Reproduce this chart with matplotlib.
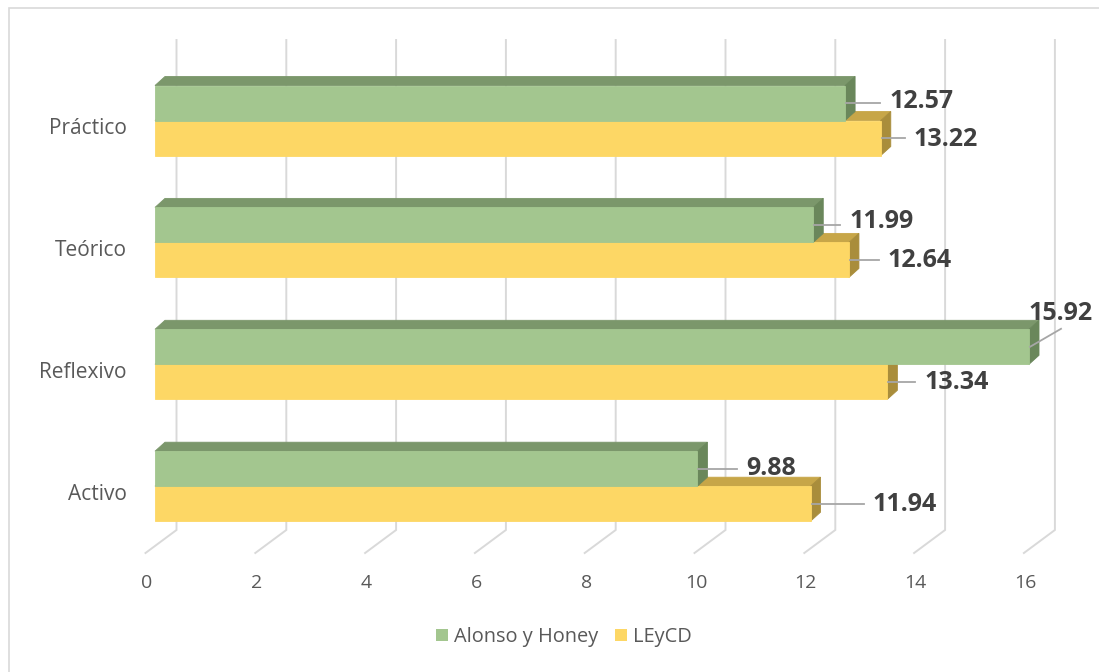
import matplotlib
matplotlib.use("Agg")
import matplotlib.pyplot as plt
from matplotlib.patches import Polygon, Rectangle, Patch

# ---------------- data ----------------
categories = ["Práctico", "Teórico", "Reflexivo", "Activo"]
series_names = ["Alonso y Honey", "LEyCD"]
alonso = [12.57, 11.99, 15.92, 9.88]
leycd = [13.22, 12.64, 13.34, 11.94]
x_ticks = [0, 2, 4, 6, 8, 10, 12, 14, 16]

# ---------------- styles ----------------
GREEN = dict(front="#A3C68F", top="#7B976B", side="#6A875B")
YELLOW = dict(front="#FDD765", top="#C7A648", side="#A98D3B")
GRID = "#D9D9D9"
TXT = "#595959"
LBL = "#404040"
LEADER = "#A6A6A6"

# ---------------- layout (pixels) ----------------
W, H = 1099, 672
X0, SX = 155.0, 54.9      # pixel of value 0 on the bar front plane, px per unit
Y0, SY = 120.5, 121.9     # pixel of the first category boundary, px per category

def ux(p):
    return p / SX

def uy(p):
    return p / SY

def py(p):  # absolute pixel row -> y data
    return (p - Y0) / SY

fig = plt.figure(figsize=(W / 100, H / 100), dpi=100)
ax = fig.add_axes([0, 0, 1, 1])
ax.set_xlim(-X0 / SX, (W - X0) / SX)
ax.set_ylim((H - Y0) / SY, -Y0 / SY)
ax.axis("off")

# outer chart border
fig.patches.append(Rectangle((9 / W, -0.01), 1.02, 1 - 8 / H + 0.01,
                             transform=fig.transFigure, fill=False,
                             edgecolor="#D9D9D9", lw=1.2, zorder=0))

# gridlines: back wall vertical + floor diagonal
for v in x_ticks:
    xb = v + ux(21.5)
    xf = v + ux(-9.5)
    ax.plot([xb, xb, xf], [py(40), py(530), py(553)], color=GRID, lw=1.4,
            solid_joinstyle="miter", zorder=1)
    ax.text(v + ux(-8), py(583), str(v), ha="center", va="center",
            fontsize=14, color=TXT, family="Open Sans")

# category labels
for i, cat in enumerate(categories):
    ax.text(ux(127 - X0), i + uy(8), cat, ha="right", va="center",
            fontsize=15, color=TXT, family="Open Sans")

# bars
h = uy(35)
dx, dy = ux(10), uy(9)

def bar3d(v, y_top, y_bot, col, z):
    kw = dict(lw=0.6, zorder=z)
    ax.add_patch(Polygon([(0, y_top), (v, y_top), (v + dx, y_top - dy), (dx, y_top - dy)],
                         closed=True, facecolor=col["top"], edgecolor=col["top"], **kw))
    ax.add_patch(Polygon([(v, y_top), (v + dx, y_top - dy), (v + dx, y_bot - dy), (v, y_bot)],
                         closed=True, facecolor=col["side"], edgecolor=col["side"], **kw))
    ax.add_patch(Polygon([(0, y_top), (v, y_top), (v, y_bot), (0, y_bot)],
                         closed=True, facecolor=col["front"], edgecolor=col["front"], **kw))

for i in range(len(categories)):
    bar3d(leycd[i], i, i + h, YELLOW, 3 + 2 * i)
    bar3d(alonso[i], i - h, i, GREEN, 4 + 2 * i)

# data labels: offsets in pixels (dx from bar end to label left edge, dy from face centre)
green_off = [(44, -1), (36, -3), None, (49, 0)]
yellow_off = [(33, 1), (39, 1), (37, 1), (62, 1)]
LBL_SIZE = 18

def label(v, yc, off, z):
    ox, oy = off
    ax.plot([v + ux(1), v + ux(ox - 9)], [yc, yc], color=LEADER, lw=1.3, zorder=z)
    ax.text(v + ux(ox), yc + uy(oy), f"{v:.2f}", ha="left", va="center",
            fontsize=LBL_SIZE, fontweight="bold", color=LBL, family="Open Sans", zorder=20)

for i in range(len(categories)):
    gy = i - h / 2
    yy = i + h / 2
    if green_off[i] is None:
        v = alonso[i]
        ax.plot([v + ux(1), v + ux(32)], [gy, gy - uy(18)], color=LEADER, lw=1.3, zorder=20)
        ax.text(v + ux(32), gy - uy(33), f"{v:.2f}", ha="center", va="center",
                fontsize=LBL_SIZE, fontweight="bold", color=LBL, family="Open Sans", zorder=20)
    else:
        label(alonso[i], gy, green_off[i], 20)
    label(leycd[i], yy, yellow_off[i], 20)

# legend
handles = [Patch(facecolor=GREEN["front"], edgecolor="none"),
           Patch(facecolor=YELLOW["front"], edgecolor="none")]
leg = fig.legend(handles, series_names, loc="center", bbox_to_anchor=(0.513, 1 - 637 / H),
                 ncol=2, frameon=False, handlelength=0.6, handleheight=0.6,
                 handletextpad=0.33, columnspacing=0.8,
                 prop={"family": "Open Sans", "size": 14.4})
for t in leg.get_texts():
    t.set_color(TXT)

fig.savefig("out.png", dpi=100, facecolor="white")
